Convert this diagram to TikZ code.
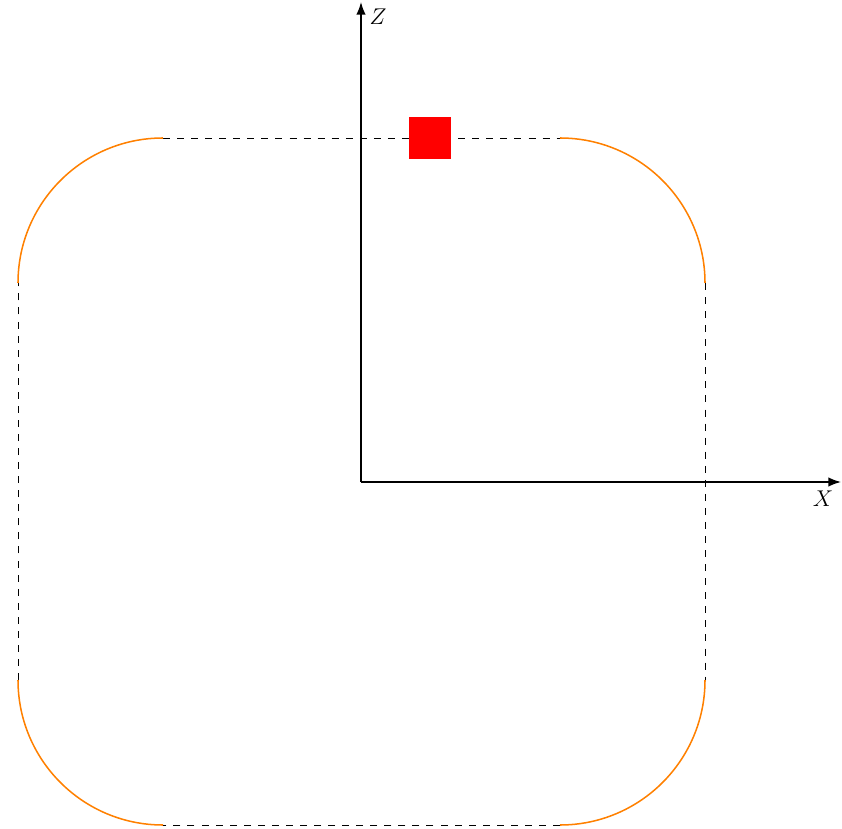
\documentclass[tikz,border=0pt]{standalone}
\usetikzlibrary{arrows.meta}
\tikzset{
  track/.style={orange, thick},
  gap/.style={dash pattern=on 3.7pt off 3.7pt, thin},
  axis/.style={->, thick},
}
\begin{document}
\begin{tikzpicture}[x=1.85cm, y=1.85cm, >=Latex, every node/.style={font=\large}]
        \useasboundingbox (-3.61,-3.46) rectangle (4.81,4.82);
        \coordinate (o) at (0,0);
        \coordinate (xend) at (4.80,0);
        \coordinate (zend) at (0,4.80);
        % straight parts of the loop
        \coordinate (tl) at (-1.98,3.44);
        \coordinate (tr) at (1.99,3.44);
        \coordinate (rt) at (3.44,1.99);
        \coordinate (rb) at (3.44,-1.98);
        \coordinate (br) at (1.99,-3.43);
        \coordinate (bl) at (-1.98,-3.43);
        \coordinate (lb) at (-3.43,-1.98);
        \coordinate (lt) at (-3.43,1.99);
        \draw[gap] (tl) -- (tr);
        \draw[gap] (rt) -- (rb);
        \draw[gap] (br) -- (bl);
        \draw[gap] (lb) -- (lt);
        % rounded corners
        \draw[track] (tr) arc (90:0:1.45);
        \draw[track] (rb) arc (0:-90:1.45);
        \draw[track] (bl) arc (270:180:1.45);
        \draw[track] (lt) arc (180:90:1.45);
        % axes
        \draw[axis] (o) -- (xend);
        \draw[axis] (o) -- (zend);
        \node (xlabel) at (4.62,-0.17) {\(X\)};
        \node (zlabel) at (0.17,4.65) {\(Z\)};
        % red block
        \node[fill=red, minimum size=0.42*1.85cm, inner sep=0pt] (block) at (0.69,3.44) {};
    \end{tikzpicture}
\end{document}
